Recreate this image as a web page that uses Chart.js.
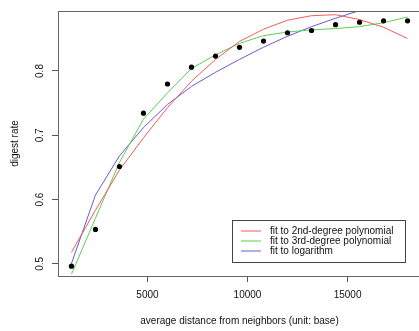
<!DOCTYPE html>
<html>
<head>
<meta charset="utf-8">
<script src="https://cdn.jsdelivr.net/npm/chart.js@4/dist/chart.umd.min.js"></script>
<style>
  html, body { margin: 0; padding: 0; background: #fff; overflow: hidden; }
  #wrap { width: 419px; height: 331px; overflow: hidden; }
</style>
</head>
<body>
<div id="wrap"><canvas id="chart1" width="425" height="331"></canvas></div>
<script>
// average distance from neighbors (unit: base)
const distances = [1200, 2400, 3600, 4800, 6000, 7200, 8400, 9600, 10800, 12000, 13200, 14400, 15600, 16800, 18000];
const digestRate = [0.4965, 0.5536, 0.6515, 0.7344, 0.7798, 0.806, 0.8232, 0.8368, 0.8465, 0.8595, 0.863, 0.872, 0.8758, 0.878, 0.878];

// fitted curves, read at the same distances
const fitPoly2 = [0.518, 0.5835, 0.646, 0.696, 0.743, 0.784, 0.818, 0.846, 0.865, 0.879, 0.886, 0.8875, 0.880, 0.868, 0.8506];
const fitPoly3 = [0.484, 0.571, 0.658, 0.725, 0.766, 0.804, 0.825, 0.843, 0.855, 0.8606, 0.864, 0.866, 0.869, 0.875, 0.884];
const fitLog = [0.5006, 0.607, 0.668, 0.712, 0.748, 0.776, 0.798, 0.818, 0.837, 0.854, 0.869, 0.882, 0.894, 0.905, 0.916];

const fitLabels = ['fit to 2nd-degree polynomial', 'fit to 3rd-degree polynomial', 'fit to logarithm'];

const xTicks = [5000, 10000, 15000];
const yTicks = [0.5, 0.6, 0.7, 0.8];

const FONT = "'Liberation Sans', Arial, sans-serif";
const fitColors = ['#f25a5a', '#5ccf52', '#6a5ad2'];

function pts(ys) {
  return distances.map((d, i) => ({x: d, y: ys[i]}));
}

// R style box round the plot + legend
const boxPlugin = {
  id: 'boxPlugin',
  afterDraw(chart) {
    const ctx = chart.ctx;
    const a = chart.chartArea;
    ctx.save();
    ctx.strokeStyle = '#666';
    ctx.lineWidth = 1;
    ctx.strokeRect(Math.round(a.left) + 0.5, Math.round(a.top) + 0.5, Math.round(a.right - a.left), Math.round(a.bottom - a.top));

    // legend
    const lx = 232, ly = 220, lw = 173, lh = 42;
    ctx.fillStyle = '#fff';
    ctx.fillRect(lx, ly, lw, lh);
    ctx.strokeStyle = '#444';
    ctx.strokeRect(lx + 0.5, ly + 0.5, lw, lh);
    ctx.font = '10px ' + FONT;
    ctx.textBaseline = 'middle';
    fitLabels.forEach((label, i) => {
      const y = 231 + i * 10;
      // soft line, like the antialiased R legend
      ctx.beginPath();
      ctx.strokeStyle = fitColors[i];
      ctx.lineWidth = 1;
      ctx.moveTo(241, y);
      ctx.lineTo(261, y);
      ctx.stroke();
      ctx.fillStyle = '#111';
      ctx.fillText(label, 270, y);
    });
    ctx.restore();
  }
};

function fitDataset(i, ys) {
  return {
    type: 'line',
    label: fitLabels[i],
    data: pts(ys),
    borderColor: fitColors[i],
    borderWidth: 1,
    pointRadius: 0,
    fill: false,
    tension: 0,
  };
}

const ctx = document.getElementById('chart1').getContext('2d');
const myChart = new Chart(ctx, {
  data: {
    datasets: [
      {
        type: 'scatter',
        label: 'digest rate',
        data: pts(digestRate),
        backgroundColor: '#000',
        borderColor: '#000',
        pointRadius: 2.6,
        pointBorderWidth: 0,
      },
      fitDataset(0, fitPoly2),
      fitDataset(1, fitPoly3),
      fitDataset(2, fitLog),
    ],
  },
  options: {
    responsive: false,
    animation: false,
    layout: { padding: { left: 0, top: 4, right: 2, bottom: 0 } },
    plugins: {
      legend: { display: false },
      tooltip: { enabled: false },
    },
    scales: {
      x: {
        type: 'linear',
        position: 'bottom',
        min: 528,
        max: 18672,
        afterBuildTicks: (scale) => { scale.ticks = xTicks.map(v => ({value: v})); },
        afterFit: (scale) => { scale.height = 55; },
        grid: { drawOnChartArea: false, drawTicks: true, tickLength: 6, color: '#555' },
        border: { display: false },
        ticks: {
          color: '#111',
          font: { family: FONT, size: 10 },
          padding: 7,
          maxRotation: 0,
          callback: (v) => String(v),
        },
        title: {
          display: true,
          text: 'average distance from neighbors (unit: base)',
          color: '#111',
          font: { family: FONT, size: 10 },
          padding: { top: 0, bottom: 4 },
        },
      },
      y: {
        type: 'linear',
        min: 0.4812,
        max: 0.8933,
        afterBuildTicks: (scale) => { scale.ticks = yTicks.map(v => ({value: v})); },
        afterFit: (scale) => { scale.width = 58; },
        grid: { drawOnChartArea: false, drawTicks: true, tickLength: 6, color: '#555' },
        border: { display: false },
        ticks: {
          color: '#111',
          font: { family: FONT, size: 10 },
          minRotation: 90,
          maxRotation: 90,
          crossAlign: 'center',
          padding: 5,
          callback: (v) => v.toFixed(1),
        },
        title: {
          display: true,
          text: 'digest rate',
          color: '#111',
          font: { family: FONT, size: 10 },
          padding: { top: 9, bottom: 0 },
        },
      },
    },
  },
  plugins: [boxPlugin],
});
</script>
</body>
</html>
